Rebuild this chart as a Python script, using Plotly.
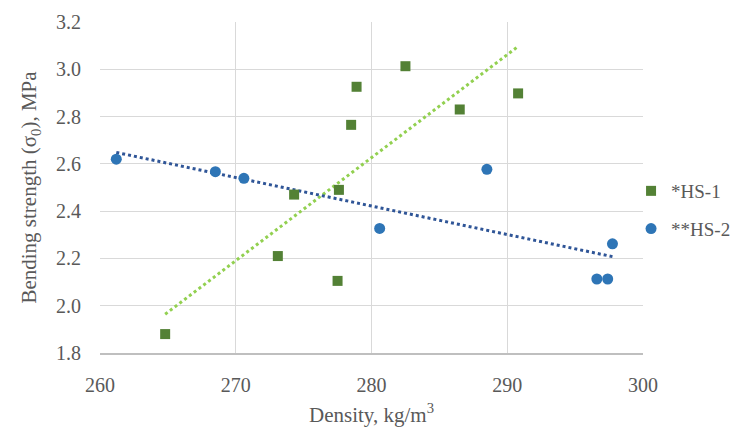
import numpy as np
import plotly.graph_objects as go

# HS-1 data
hs1_density = [264.8, 273.1, 277.5, 274.3, 277.6, 278.5, 278.9, 282.5, 286.5, 290.8]
hs1_strength = [1.88, 2.21, 2.105, 2.47, 2.49, 2.765, 2.926, 3.013, 2.83, 2.898]
# HS-2 data
hs2_density = [261.2, 268.5, 270.6, 280.6, 288.5, 297.75, 296.6, 297.4]
hs2_strength = [2.62, 2.567, 2.539, 2.327, 2.577, 2.262, 2.113, 2.113]

series_names = ["*HS-1", "**HS-2"]
x_ticks = [260, 270, 280, 290, 300]
y_ticks = [1.8, 2.0, 2.2, 2.4, 2.6, 2.8, 3.0, 3.2]

FONT = "Palatino Linotype, Book Antiqua, Palatino, Liberation Serif, serif"
GRAY = "#595959"


def trend(xs, ys):
    k, b = np.polyfit(xs, ys, 1)
    x0, x1 = min(xs), max(xs)
    return [x0, x1], [k * x0 + b, k * x1 + b]


fig = go.Figure()

tx, ty = trend(hs1_density, hs1_strength)
fig.add_trace(go.Scatter(x=tx, y=ty, mode="lines", showlegend=False,
                         line=dict(color="#92D050", width=3, dash="dot"), hoverinfo="skip"))
tx, ty = trend(hs2_density, hs2_strength)
fig.add_trace(go.Scatter(x=tx, y=ty, mode="lines", showlegend=False,
                         line=dict(color="#2F5597", width=3, dash="dot"), hoverinfo="skip"))

fig.add_trace(go.Scatter(x=hs1_density, y=hs1_strength, mode="markers", name=series_names[0],
                         legendgroup="a",
                         marker=dict(symbol="square", size=10, color="#538135")))
fig.add_trace(go.Scatter(x=hs2_density, y=hs2_strength, mode="markers", name=series_names[1],
                         legendgroup="b",
                         marker=dict(symbol="circle", size=11, color="#2E75B6")))

fig.update_layout(
    width=731, height=427,
    margin=dict(l=100, r=88, t=22, b=74, autoexpand=False),
    paper_bgcolor="white", plot_bgcolor="white",
    font=dict(family=FONT, size=20, color=GRAY),
    legend=dict(x=0.978, xanchor="left", y=0.432, yanchor="middle",
                font=dict(size=19, color=GRAY), tracegroupgap=10,
                bgcolor="rgba(0,0,0,0)", itemwidth=30),
)
fig.update_xaxes(
    range=[260, 300], tickvals=x_ticks, ticktext=[str(v) for v in x_ticks],
    showgrid=True, gridcolor="#d9d9d9", gridwidth=1.3, zeroline=False,
    showline=True, linecolor="#bfbfbf", linewidth=1.5,
    ticks="", ticklabelstandoff=13, automargin=False,
    title=dict(text="Density, kg/m<sup>3</sup>", font=dict(size=21, color=GRAY), standoff=19),
)
fig.update_yaxes(
    range=[1.8, 3.2], tickvals=y_ticks, ticktext=[f"{v:.1f}" for v in y_ticks],
    showgrid=True, gridcolor="#d9d9d9", gridwidth=1.3, zeroline=False,
    showline=False, ticks="", ticklabelstandoff=18, automargin=False,
    title=dict(text="Bending strength (σ<sub>0</sub>), MPa", font=dict(size=21, color=GRAY), standoff=13),
)

fig.write_html("out.html")
